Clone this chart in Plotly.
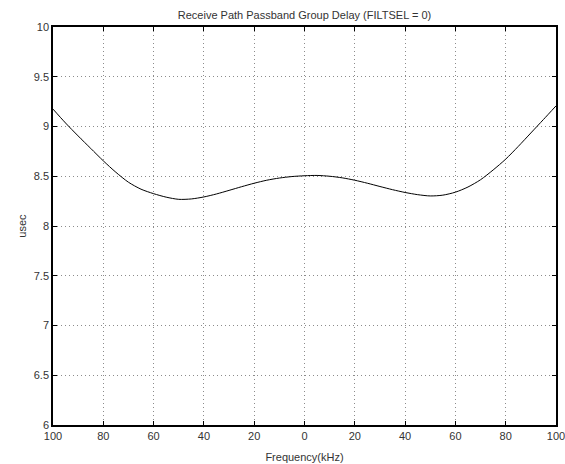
import plotly.graph_objects as go

freq_khz = [-100, -95, -90, -85, -80, -75, -70, -65, -60, -55, -50, -45, -40, -35, -30,
            -25, -20, -15, -10, -5, 0, 5, 10, 15, 20, 25, 30, 35, 40, 45, 50, 55, 60,
            65, 70, 75, 80, 85, 90, 95, 100]
delay_usec = [9.175, 9.035, 8.905, 8.78, 8.655, 8.54, 8.44, 8.37, 8.325, 8.29, 8.268, 8.272,
              8.292, 8.322, 8.358, 8.395, 8.43, 8.46, 8.482, 8.497, 8.505, 8.508, 8.50,
              8.484, 8.46, 8.43, 8.397, 8.365, 8.337, 8.315, 8.302, 8.31, 8.34, 8.392,
              8.465, 8.563, 8.672, 8.80, 8.935, 9.07, 9.207]

x_ticks = [-100, -80, -60, -40, -20, 0, 20, 40, 60, 80, 100]
x_tick_labels = ["100", "80", "60", "40", "20", "0", "20", "40", "60", "80", "100"]
y_ticks = [6, 6.5, 7, 7.5, 8, 8.5, 9, 9.5, 10]
y_tick_labels = ["6", "6.5", "7", "7.5", "8", "8.5", "9", "9.5", "10"]

font_family = "Liberation Sans, Arial, sans-serif"
text_color = "#333333"

fig = go.Figure()
fig.add_trace(go.Scatter(
    x=freq_khz, y=delay_usec, mode="lines",
    line=dict(color="black", width=1, shape="spline", smoothing=0.8),
    showlegend=False, hoverinfo="x+y"))

axis_common = dict(
    showline=True, linecolor="black", linewidth=1.5, mirror="ticks",
    ticks="inside", ticklen=4, tickcolor="black", tickwidth=1,
    showgrid=True, gridcolor="#8c8c8c", gridwidth=1, griddash="1px,3px",
    zeroline=False, automargin=False, ticklabeloverflow="allow",
    tickfont=dict(family=font_family, size=11, color=text_color),
)

fig.update_layout(
    width=565, height=464,
    margin=dict(l=53, r=9, t=27, b=39),
    paper_bgcolor="white", plot_bgcolor="white",
    font=dict(family=font_family, size=11, color=text_color),
    title=dict(text="Receive Path Passband Group Delay (FILTSEL = 0)",
               x=0.5, xref="paper", xanchor="center",
               y=1 - 15 / 464, yref="container", yanchor="middle",
               font=dict(family=font_family, size=11, color=text_color)),
    xaxis=dict(range=[-100, 100], tickvals=x_ticks, ticktext=x_tick_labels,
               title=dict(text="Frequency(kHz)", standoff=12,
                          font=dict(family=font_family, size=11, color=text_color)),
               **axis_common),
    yaxis=dict(range=[6, 10], tickvals=y_ticks, ticktext=y_tick_labels,
               title=dict(text="usec", standoff=5,
                          font=dict(family=font_family, size=11, color=text_color)),
               **axis_common),
)

fig.write_html("out.html",
               config={"displayModeBar": False},
               post_script="document.body.style.margin='0';document.body.style.padding='0';")
